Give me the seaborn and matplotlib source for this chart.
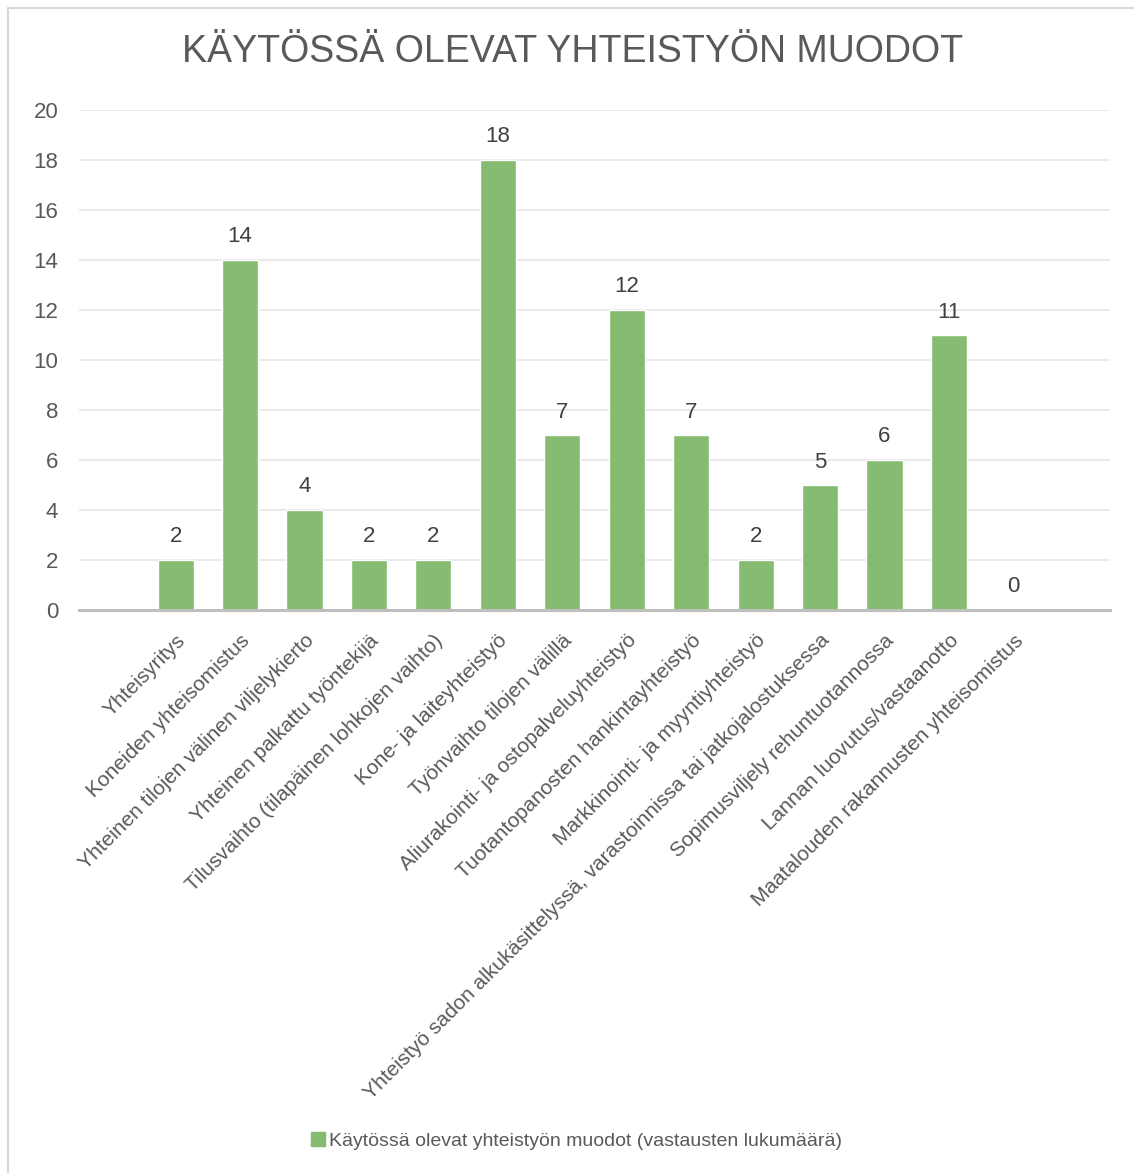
import matplotlib
matplotlib.use("Agg")
import matplotlib.pyplot as plt
from matplotlib.lines import Line2D
import seaborn as sns
import pandas as pd

categories = [
    "Yhteisyritys",
    "Koneiden yhteisomistus",
    "Yhteinen tilojen välinen viljelykierto",
    "Yhteinen palkattu työntekijä",
    "Tilusvaihto (tilapäinen lohkojen vaihto)",
    "Kone- ja laiteyhteistyö",
    "Työnvaihto tilojen välillä",
    "Aliurakointi- ja ostopalveluyhteistyö",
    "Tuotantopanosten hankintayhteistyö",
    "Markkinointi- ja myyntiyhteistyö",
    "Yhteistyö sadon alkukäsittelyssä, varastoinnissa tai jatkojalostuksessa",
    "Sopimusviljely rehuntuotannossa",
    "Lannan luovutus/vastaanotto",
    "Maatalouden rakannusten yhteisomistus",
]
values = [2, 14, 4, 2, 2, 18, 7, 12, 7, 2, 5, 6, 11, 0]
y_ticks = [0, 2, 4, 6, 8, 10, 12, 14, 16, 18, 20]
title = "KÄYTÖSSÄ OLEVAT YHTEISTYÖN MUODOT"
series_name = "Käytössä olevat yhteistyön muodot (vastausten lukumäärä)"

sns.set_theme(style="white")
plt.rcParams["font.family"] = ["Liberation Sans", "DejaVu Sans"]

TEXT = "#595959"
GREEN = "#86BC72"

df = pd.DataFrame({"cat": categories, "val": values})

W, H = 1134, 1173
fig = plt.figure(figsize=(W / 100, H / 100), dpi=100)
ax = fig.add_axes([79 / W, 1 - 610 / H, (1110 - 79) / W, 500 / H])

sns.barplot(data=df, x="cat", y="val", color=GREEN, width=0.56, ax=ax,
            saturation=1, zorder=3)

ax.set_xlim(-1.5, len(categories) + 0.5)
ax.set_ylim(0, 20)
ax.set_yticks(y_ticks)
ax.set_yticklabels([str(t) for t in y_ticks], fontsize=16, color=TEXT)
ax.set_xlabel("")
ax.set_ylabel("")
ax.grid(axis="y", color="#E6E6E6", linewidth=1.2, zorder=0)
ax.grid(axis="x", visible=False)
for s in ["top", "right", "left"]:
    ax.spines[s].set_visible(False)
ax.spines["bottom"].set_color("#BFBFBF")
ax.spines["bottom"].set_linewidth(2.2)
ax.spines["bottom"].set_zorder(4)
ax.tick_params(axis="y", length=0, pad=15)
ax.tick_params(axis="x", length=0, pad=15)

ax.set_xticks(range(len(categories)))
ax.set_xticklabels(categories, rotation=45, ha="right", rotation_mode="anchor",
                   fontsize=15, color=TEXT)

for cont in ax.containers:
    ax.bar_label(cont, labels=[str(v) for v in values], padding=9,
                 fontsize=16, color="#404040")

fig.text(573 / W, 1 - 52 / H, title, ha="center", va="center", fontsize=27, color=TEXT)

handle = Line2D([0], [0], marker="s", linestyle="none", markersize=10,
                markerfacecolor=GREEN, markeredgecolor=GREEN)
fig.legend([handle], [series_name], loc="center", bbox_to_anchor=(575 / W, 1 - 1141 / H),
           frameon=False, fontsize=14, labelcolor=TEXT, handletextpad=0.1,
           handlelength=1.0)

# chart border (left and top)
fig.add_artist(Line2D([8 / W, 8 / W], [0, 1 - 8 / H], transform=fig.transFigure,
                      color="#D9D9D9", linewidth=1.5))
fig.add_artist(Line2D([8 / W, 1], [1 - 8 / H, 1 - 8 / H], transform=fig.transFigure,
                      color="#D9D9D9", linewidth=1.5))

fig.savefig("out.png", dpi=100, facecolor="white")
